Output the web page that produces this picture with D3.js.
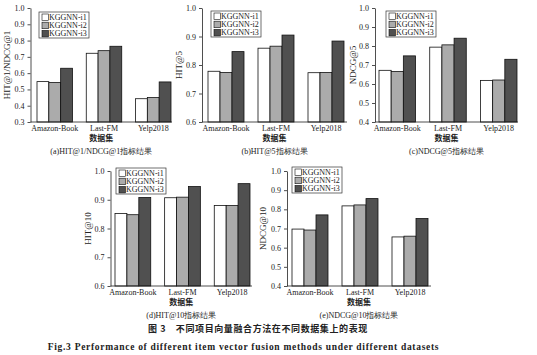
<!DOCTYPE html>
<html><head><meta charset="utf-8">
<script src="https://cdn.jsdelivr.net/npm/d3@7"></script>
<style>
html,body{margin:0;padding:0;background:#fff;}
svg{display:block;}
</style></head>
<body>
<svg id="chart" width="537" height="355"></svg>
<script>
// ---------------- data ----------------
const categories = ["Amazon-Book", "Last-FM", "Yelp2018"];
const seriesNames = ["KGGNN-i1", "KGGNN-i2", "KGGNN-i3"];

// values per series, in category order
const hit1_i1 = [0.548, 0.722, 0.443];
const hit1_i2 = [0.543, 0.738, 0.450];
const hit1_i3 = [0.630, 0.765, 0.546];

const hit5_i1 = [0.778, 0.859, 0.773];
const hit5_i2 = [0.774, 0.866, 0.774];
const hit5_i3 = [0.847, 0.905, 0.884];

const ndcg5_i1 = [0.672, 0.794, 0.619];
const ndcg5_i2 = [0.666, 0.806, 0.621];
const ndcg5_i3 = [0.748, 0.841, 0.730];

const hit10_i1 = [0.852, 0.907, 0.880];
const hit10_i2 = [0.848, 0.909, 0.880];
const hit10_i3 = [0.908, 0.946, 0.956];

const ndcg10_i1 = [0.697, 0.818, 0.656];
const ndcg10_i2 = [0.692, 0.823, 0.660];
const ndcg10_i3 = [0.771, 0.856, 0.752];

const ticksA = [0.3, 0.4, 0.5, 0.6, 0.7, 0.8, 0.9, 1.0];
const ticksB = [0.6, 0.7, 0.8, 0.9, 1.0];
const ticksC = [0.4, 0.5, 0.6, 0.7, 0.8, 0.9, 1.0];
const ticksD = [0.6, 0.7, 0.8, 0.9, 1.0];
const ticksE = [0.4, 0.5, 0.6, 0.7, 0.8, 0.9, 1.0];

const yTitles = ["HIT@1/NDCG@1", "HIT@5", "NDCG@5", "HIT@10", "NDCG@10"];
const subTitles = ["(a)HIT@1/NDCG@1指标结果", "(b)HIT@5指标结果", "(c)NDCG@5指标结果", "(d)HIT@10指标结果", "(e)NDCG@10指标结果"];
const xTitle = "数据集";
const captionCN = "图 3　不同项目向量融合方法在不同数据集上的表现";
const captionEN = "Fig.3   Performance of different item vector fusion methods under different datasets";

// ---------------- layout / style ----------------
const colors = ["#ffffff", "#ababab", "#505050"];
const serif = "'Liberation Serif','Times New Roman',serif";
const cjk = "'Noto Sans CJK SC',sans-serif";

const panels = [
  {series:[hit1_i1,hit1_i2,hit1_i3], ticks:ticksA, axisX:30.5, x0:37, x1:171, right:172, top:8, bottom:122, ytx:8, legend:[39,12]},
  {series:[hit5_i1,hit5_i2,hit5_i3], ticks:ticksB, axisX:202, x0:208, x1:344, right:347, top:8, bottom:122, ytx:180, legend:[211,11]},
  {series:[ndcg5_i1,ndcg5_i2,ndcg5_i3], ticks:ticksC, axisX:375, x0:379, x1:517, right:518, top:8, bottom:122, ytx:354, legend:[386,11]},
  {series:[hit10_i1,hit10_i2,hit10_i3], ticks:ticksD, axisX:110.5, x0:115, x1:250, right:252, top:171, bottom:286, ytx:89, legend:[116,168]},
  {series:[ndcg10_i1,ndcg10_i2,ndcg10_i3], ticks:ticksE, axisX:287, x0:292, x1:428, right:431, top:171, bottom:286, ytx:264, legend:[292,167]}
];

const svg = d3.select("#chart");

panels.forEach((p, pi) => {
  const g = svg.append("g");
  const y = d3.scaleLinear().domain([d3.min(p.ticks), d3.max(p.ticks)]).range([p.bottom, p.top]);
  const xg = d3.scaleBand().domain(categories).range([p.x0, p.x1]).paddingInner(0.28).paddingOuter(0);
  const xs = d3.scaleBand().domain(seriesNames).range([0, xg.bandwidth()]);

  // bars
  seriesNames.forEach((s, si) => {
    g.append("g").selectAll("rect").data(categories).join("rect")
      .attr("x", c => xg(c) + xs(s))
      .attr("y", (c, ci) => y(p.series[si][ci]))
      .attr("width", xs.bandwidth())
      .attr("height", (c, ci) => y(d3.min(p.ticks)) - y(p.series[si][ci]))
      .attr("fill", colors[si])
      .attr("stroke", "#111")
      .attr("stroke-width", 0.8);
  });

  // y axis
  const ya = g.append("g").attr("transform", `translate(${p.axisX},0)`)
    .call(d3.axisLeft(y).tickValues(p.ticks).tickSize(3).tickSizeOuter(0).tickFormat(d3.format(".1f")).tickPadding(3));
  ya.selectAll("text").attr("font-family", serif).attr("font-size", 8).attr("fill", "#222");
  ya.selectAll("line,path").attr("stroke", "#222").attr("stroke-width", 0.8);

  // x axis baseline
  g.append("line").attr("x1", p.axisX).attr("x2", p.right)
    .attr("y1", y(d3.min(p.ticks))).attr("y2", y(d3.min(p.ticks)))
    .attr("stroke", "#222").attr("stroke-width", 0.8);
  const xa = g.append("g").attr("transform", `translate(0,${p.bottom})`)
    .call(d3.axisBottom(xg).tickSize(0).tickPadding(3));
  xa.select(".domain").remove();
  xa.selectAll("text").attr("font-family", serif).attr("font-size", 8).attr("fill", "#222");

  const cx = (p.axisX + p.right) / 2;
  // y title
  g.append("text")
    .attr("transform", `translate(${p.ytx},${(p.top + p.bottom) / 2}) rotate(-90)`)
    .attr("text-anchor", "middle").attr("dominant-baseline", "middle")
    .attr("font-family", serif).attr("font-size", 9).attr("fill", "#222")
    .text(yTitles[pi]);
  // x title
  g.append("text").attr("x", cx).attr("y", p.bottom + 19)
    .attr("text-anchor", "middle").attr("font-family", cjk).attr("font-size", 8).attr("font-weight", "bold").attr("fill", "#222")
    .text(xTitle);
  // subtitle
  g.append("text").attr("x", cx).attr("y", p.bottom + 31.5)
    .attr("text-anchor", "middle").attr("font-family", serif).attr("font-size", 8).attr("fill", "#222")
    .text(subTitles[pi]);

  // legend
  const lg = g.append("g").attr("transform", `translate(${p.legend[0]},${p.legend[1]})`);
  lg.append("rect").attr("x", 0).attr("y", 0).attr("width", 50).attr("height", 26)
    .attr("fill", "#fff").attr("stroke", "#333").attr("stroke-width", 0.7);
  seriesNames.forEach((s, si) => {
    lg.append("rect").attr("x", 3).attr("y", 2 + si * 8.2).attr("width", 6.5).attr("height", 6.5)
      .attr("fill", colors[si]).attr("stroke", "#111").attr("stroke-width", 0.6);
    lg.append("text").attr("x", 10).attr("y", 8 + si * 8.2)
      .attr("font-family", serif).attr("font-size", 8).attr("fill", "#222").text(s);
  });
});

// captions
svg.append("text").attr("x", 258).attr("y", 332).attr("text-anchor", "middle")
  .attr("font-family", cjk).attr("font-size", 9).attr("font-weight", "bold").attr("fill", "#222")
  .attr("letter-spacing", 0.6).text(captionCN);
svg.append("text").attr("x", 243.5).attr("y", 350).attr("text-anchor", "middle")
  .attr("font-family", serif).attr("font-size", 9.5).attr("font-weight", "bold").attr("fill", "#222")
  .attr("letter-spacing", 0.7).text(captionEN);
</script>
</body></html>
